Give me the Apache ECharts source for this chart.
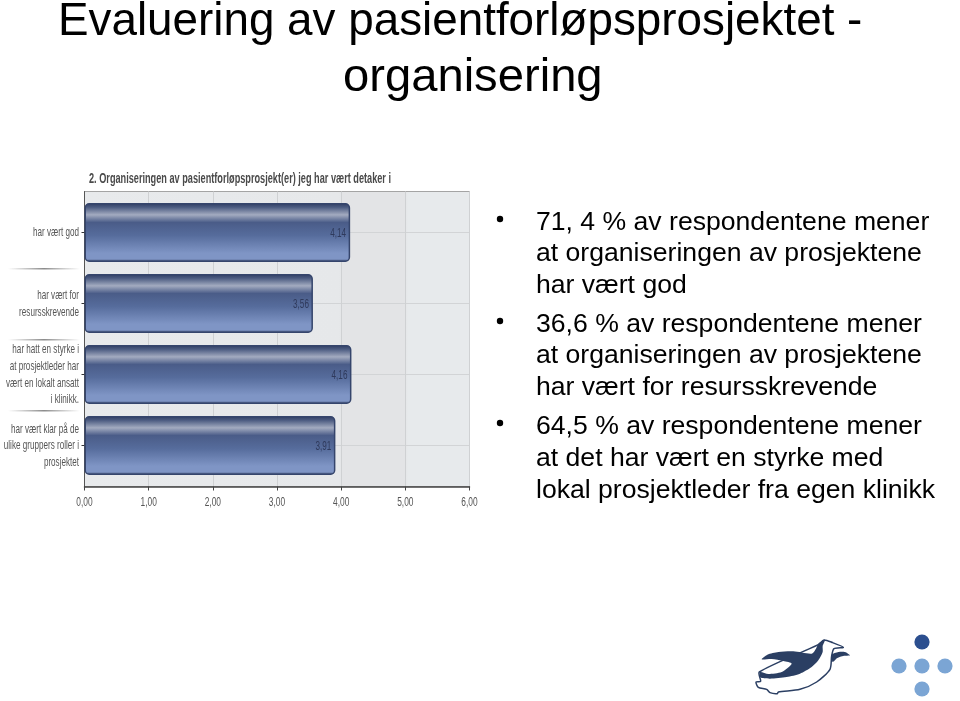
<!DOCTYPE html>
<html><head><meta charset="utf-8">
<style>html,body{margin:0;padding:0;background:#fff}#c{width:960px;height:701px}</style>
<script src="https://cdn.jsdelivr.net/npm/echarts@6/dist/echarts.min.js"></script>
</head><body><div id="c"></div>
<script>
const slideTitle = ['Evaluering av pasientforløpsprosjektet -', 'organisering'];
const chartTitle = '2. Organiseringen av pasientforløpsprosjekt(er) jeg har vært detaker i';
const categories = ['har vært god', 'har vært for\nresursskrevende', 'har hatt en styrke i\nat prosjektleder har\nvært en lokalt ansatt\ni klinikk.', 'har vært klar på de\nulike gruppers roller i\nprosjektet'];
const values = [4.14, 3.56, 4.16, 3.91];
const xTicks = [0, 1, 2, 3, 4, 5, 6];
const xTickLabels = ['0,00', '1,00', '2,00', '3,00', '4,00', '5,00', '6,00'];
const bulletLines = [
  ['71, 4 % av respondentene mener', 'at organiseringen av prosjektene', 'har vært god'],
  ['36,6 % av respondentene mener', 'at organiseringen av prosjektene', 'har vært for resursskrevende'],
  ['64,5 % av respondentene mener', 'at det har vært en styrke med', 'lokal prosjektleder fra egen klinikk']
];
const bulletY = [[221,252,284],[323,354,386],[425,457,489]];
const sans = '"Liberation Sans",Arial,sans-serif';

const g = [];
slideTitle.forEach((t,i)=>g.push({type:'text',x:i?343:58,y:i?55:-1,scaleX:i?1.03:1,style:{text:t,fontSize:45.8,fontFamily:sans,fill:'#000'}}));
g.push({type:'text',x:89,y:171,scaleX:.632,style:{text:chartTitle,fontSize:14.5,fontWeight:'bold',fontFamily:sans,fill:'#4a4a4a'}});
bulletLines.forEach((ls,i)=>{
  g.push({type:'circle',shape:{cx:500,cy:bulletY[i][0]-2,r:3.2},style:{fill:'#000'}});
  ls.forEach((t,j)=>g.push({type:'text',x:536,y:bulletY[i][j]-12,style:{text:t,fontSize:26.6,fontFamily:sans,fill:'#000'}}));
});
// faint separators between the category labels
[268,339,410].forEach(y=>g.push({type:'rect',shape:{x:8,y:y,width:72,height:1.4},style:{fill:{type:'linear',x:0,y:0,x2:1,y2:0,colorStops:[{offset:0,color:'rgba(120,120,120,0)'},{offset:.5,color:'rgba(110,110,110,.8)'},{offset:1,color:'rgba(120,120,120,0)'}]}}}));
// logo
const ink = '#2b3f63';
g.push({type:'group',x:750,y:632,scaleX:1/3,scaleY:1/3,children:[
 {type:'polygon',shape:{smooth:.25,points:[[205,38],[222,24],[248,32],[280,46],[252,50],[245,72],[240,112],[200,150],[150,172],[85,180],[82,185],[60,182],[50,172],[25,166],[18,150],[32,148],[28,120]]},style:{fill:'#fff',stroke:ink,lineWidth:4.5}},
 {type:'polygon',shape:{smooth:.25,points:[[35,82],[52,68],[85,60],[130,58],[185,65],[198,50],[205,35],[225,23],[218,42],[218,60],[205,85],[185,105],[150,125],[110,135],[60,140],[30,136],[30,120],[55,126],[95,120],[125,95],[100,87],[65,81]]},style:{fill:ink}},
 {type:'polygon',shape:{smooth:.2,points:[[245,68],[265,60],[285,60],[300,70],[280,72],[262,78],[248,90]]},style:{fill:ink}}
]});
[[922,642,'#2c4f8f'],[899,666,'#7ba5d4'],[922,666,'#7ba5d4'],[945,666,'#7ba5d4'],[922,689,'#7ba5d4']].forEach(d=>
  g.push({type:'circle',shape:{cx:d[0],cy:d[1],r:7.6},style:{fill:d[2]}}));

const textEl = (x,y,text,size,color,align,sx,lh)=>({type:'text',x,y,scaleX:sx,silent:true,
  style:{text,fontSize:size,fontFamily:sans,fill:color,textAlign:align,textVerticalAlign:'middle',lineHeight:lh||size}});

const chart = echarts.init(document.getElementById('c'),null,{renderer:'canvas'});
chart.setOption({
  animation:false,
  graphic:{elements:g},
  grid:[
   {left:84.5,top:191.5,width:385,height:295,show:true,borderWidth:1,borderColor:'#a4a4a4',outerBoundsMode:'none',
    backgroundColor:{type:'linear',x:0,y:0,x2:1,y2:0,colorStops:[{offset:0,color:'#e8eaec'},{offset:.66,color:'#e6e8ea'},{offset:.67,color:'#e3e4e6'},{offset:.83,color:'#e3e4e6'},{offset:.84,color:'#e7eaec'},{offset:1,color:'#e7eaec'}]}},
   {left:84.5,top:197,width:385,height:284,outerBoundsMode:'none'}
  ],
  xAxis:[
   {gridIndex:0,type:'value',min:0,max:6,interval:1,
    axisLine:{show:true,onZero:false,lineStyle:{color:'#444',width:1.5}},
    axisTick:{show:true,length:4,lineStyle:{color:'#444'}},
    axisLabel:{show:false},
    splitLine:{show:true,lineStyle:{color:'#cfd1d3',width:1}}},
   {gridIndex:1,type:'value',min:0,max:6,interval:1,show:false}
  ],
  yAxis:[
   {gridIndex:0,type:'value',min:0,max:1,interval:1,
    axisLine:{show:true,onZero:false,lineStyle:{color:'#555',width:1}},axisTick:{show:false},axisLabel:{show:false},splitLine:{show:false}},
   {gridIndex:1,type:'category',inverse:true,data:categories,
    axisLine:{show:false,onZero:false},
    axisTick:{show:true,alignWithLabel:true,length:3,lineStyle:{color:'#333'}},
    axisLabel:{show:false},
    splitLine:{show:true,alignWithLabel:true,lineStyle:{color:'#d2d4d6',width:1}}}
  ],
  series:[
   {type:'bar',xAxisIndex:1,yAxisIndex:1,data:values,barWidth:59,
    itemStyle:{borderRadius:4,borderColor:'#35456c',borderWidth:1.5,
      color:{type:'linear',x:0,y:0,x2:0,y2:1,colorStops:[
        {offset:0,color:'#2f3c60'},{offset:.07,color:'#4a5a80'},{offset:.2,color:'#a3abc0'},{offset:.33,color:'#4a5c88'},
        {offset:.55,color:'#566c9c'},{offset:.85,color:'#7f95c5'},{offset:.95,color:'#7f95c5'},{offset:1,color:'#2d3a5c'}]}}},
   {type:'custom',xAxisIndex:1,yAxisIndex:1,z:5,silent:true,clip:false,
    data:values.map((v,i)=>[v,i]),
    renderItem:(p,api)=>{const c=api.coord([api.value(0),api.value(1)]);
      return textEl(c[0]-4,c[1]+1,api.value(0).toFixed(2).replace('.',','),12,'#2f3a5c','right',.68);}},
   {type:'custom',xAxisIndex:1,yAxisIndex:1,z:5,silent:true,clip:false,
    data:categories.map((c,i)=>[0,i]),
    renderItem:(p,api)=>{const c=api.coord([0,api.value(1)]);
      return textEl(c[0]-5.5,c[1],categories[api.value(1)],13.5,'#555','right',.6,16.7);}},
   {type:'custom',xAxisIndex:0,yAxisIndex:0,z:5,silent:true,clip:false,
    data:xTicks.map(v=>[v,0]),
    renderItem:(p,api)=>{const c=api.coord([api.value(0),0]);
      return textEl(c[0],c[1]+15.5,xTickLabels[p.dataIndex],13.5,'#555','center',.62);}}
  ]
});
</script></body></html>
